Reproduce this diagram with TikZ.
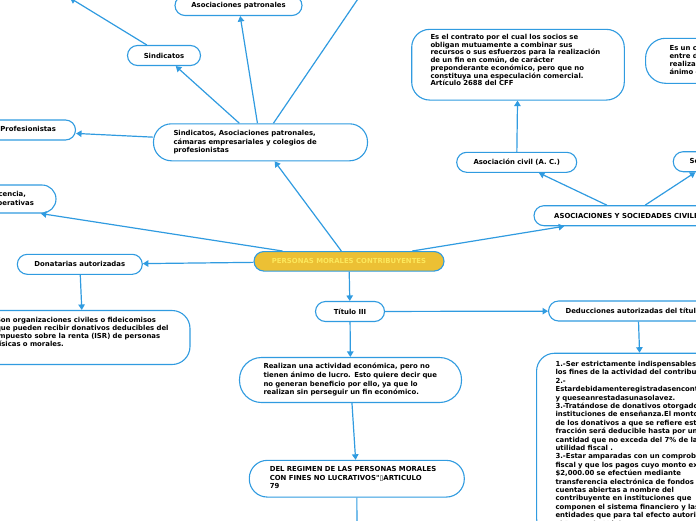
\documentclass[tikz,border=0pt]{standalone}
\usepackage{fontspec}
\newfontfamily\dvs{DejaVu Sans}
\usetikzlibrary{arrows.meta,calc}
\definecolor{bl}{RGB}{48,155,224}
\definecolor{gold}{RGB}{236,192,52}
\definecolor{lyel}{RGB}{252,232,92}
\newcommand{\mlines}[1]{\begin{tabular}{@{}l@{}}#1\end{tabular}}
\newcommand{\rlines}[1]{\begin{tabular}{@{}r@{}}#1\end{tabular}}
\begin{document}
\begin{tikzpicture}[x=1pt,y=-1pt,
  mm/.style={draw=bl, line width=1.1pt, fill=white, text=black,
    font=\dvs\bfseries\fontsize{6.9}{8.5}\selectfont, inner sep=0pt},
  lsp/.style={font={\dvs\bfseries\fontsize{6.9}{#1}\selectfont}},
  pill/.style={mm, rounded corners=10pt, minimum height=20pt},
  conn/.style={draw=bl, line width=1.2pt, -{Triangle[length=5.5pt,width=6.5pt]}}]
\useasboundingbox (0,0) rectangle (696,520);

% nodes
\node[pill, minimum width=127pt] (ap) at (238.5,5.5) {Asociaciones patronales};
\node[pill, minimum width=73pt] (sind) at (164,55.5) {Sindicatos};
\node[mm, rounded corners=18pt, minimum width=214pt, minimum height=37pt,
  text width=174pt, inner xsep=20pt, align=left] (hub) at (260.5,142.3)
  {\mlines{Sindicatos, Asociaciones patronales,\\cámaras empresariales y colegios de\\profesionistas}};
\node[pill, minimum width=142pt] (prof) at (4.5,130) {Colegios de Profesionistas};
\node[mm, rounded corners=14pt, minimum width=218pt, minimum height=28pt,
  text width=174pt, inner xsep=22pt, align=right, lsp=8.7] (ben) at (-53,199)
  {\rlines{Asistencia o beneficencia,\kern8pt\\Sociedades cooperativas}};
\node[mm, fill=gold, text=lyel, rounded corners=9.75pt, minimum width=190pt,
  minimum height=19.5pt] (pm) at (349,261.3) {PERSONAS MORALES CONTRIBUYENTES};
\node[pill, minimum width=125pt] (don) at (79.8,264.3) {Donatarias autorizadas};
\node[mm, rounded corners=18pt, minimum width=214pt, minimum height=54pt,
  text width=174pt, inner xsep=20pt, align=left, lsp=7.7] (dond) at (83,337.5)
  {\mlines{Son organizaciones civiles o fideicomisos\\que pueden recibir donativos deducibles del\\impuesto sobre la renta (ISR) de personas\\físicas o morales.\\[9pt]}};
\node[pill, minimum width=69pt] (tit) at (350,311.5) {Título III};
\node[pill, anchor=west, inner xsep=17pt] (ded) at (548,311) {Deducciones autorizadas del título III};
\node[mm, rounded corners=18pt, anchor=north west, text width=174pt,
  inner xsep=19pt, inner ysep=7.3pt, align=left, lsp=8.4] (dedd) at (536,352.7)
  {\mlines{1.-Ser estrictamente indispensables para\\los fines de la actividad del contribuyente.\\2.-\\Estardebidamenteregistradasencontabilidad\\y queseanrestadasunasolavez.\\3.-Tratándose de donativos otorgados a\\instituciones de enseñanza.El monto total\\de los donativos a que se refiere esta\\fracción será deducible hasta por una\\cantidad que no exceda del 7\% de la\\utilidad fiscal .\\3.-Estar amparadas con un comprobante\\fiscal y que los pagos cuyo monto exceda de\\\$2,000.00 se efectúen mediante\\transferencia electrónica de fondos desde\\cuentas abiertas a nombre del\\contribuyente en instituciones que\\componen el sistema financiero y las\\entidades que para tal efecto autorice\\el Banco de México.}};
\node[mm, rounded corners=22pt, minimum width=222pt, minimum height=45pt,
  text width=174pt, inner xsep=24pt, align=left, lsp=8.6] (real) at (350.5,380)
  {\mlines{Realizan una actividad económica, pero no\\tienen ánimo de lucro. Esto quiere decir que\\no generan beneficio por ello, ya que lo\\realizan sin perseguir un fin económico.}};
\node[mm, rounded corners=18pt, minimum width=215pt, minimum height=36.7pt,
  text width=174pt, inner xsep=20.5pt, align=left] (dr) at (356.8,478.7)
  {\mlines{DEL REGIMEN DE LAS PERSONAS MORALES\\CON FINES NO LUCRATIVOS"▯ARTICULO\\79}};
\node[pill, minimum width=190pt] (asoc) at (629,215.7) {ASOCIACIONES Y SOCIEDADES CIVILES};
\node[pill, minimum width=120pt] (ac) at (516.7,162.3) {Asociación civil (A. C.)};
\node[mm, rounded corners=18pt, minimum width=212.6pt, minimum height=70.7pt,
  text width=175pt, inner xsep=18.8pt, align=left, lsp=7.3] (contr) at (518,64.7)
  {\mlines{Es el contrato por el cual los socios se\\obligan mutuamente a combinar sus\\recursos o sus esfuerzos para la realización\\de un fin en común, de carácter\\preponderante económico, pero que no\\constituya una especulación comercial.\\Artículo 2688 del CFF\\[6.8pt]}};
\node[mm, rounded corners=20pt, anchor=west, minimum height=45pt,
  text width=174pt, inner xsep=24pt, align=left, lsp=8.3] (esun) at (645,60.8)
  {\mlines{Es un contrato que se celebra\\entre dos o más personas para\\realizar un fin común sin\\ánimo de lucro.}};
\node[pill, anchor=west, inner xsep=16.3pt] (soc) at (672.7,161.7) {Sociedad civil (S. C.)};

\coordinate (tl) at (70,-2);
\coordinate (tr) at (364,-10);
\coordinate (below) at (357,545);

% connectors
\draw[conn] (hub) -- (sind);
\draw[conn] (hub) -- (ap);
\draw[conn] (hub) -- (tr);
\draw[conn] (hub) -- (prof);
\draw[conn] (sind) -- (tl);
\draw[conn] (pm) -- (hub);
\draw[conn] (pm) -- (ben);
\draw[conn] (pm) -- (don);
\draw[conn] (pm) -- (tit);
\draw[conn] (pm) -- (asoc);
\draw[conn] (don) -- (dond);
\draw[conn] (tit) -- (ded);
\draw[conn] (tit) -- (real);
\draw[conn] (ded) -- (dedd);
\draw[conn] (real) -- (dr);
\draw[conn] (dr) -- (below);
\draw[conn] (asoc) -- (ac);
\draw[conn] (asoc) -- ($(soc.south west)!0.2!(soc.south east)$);
\draw[conn] (ac) -- (contr);
\end{tikzpicture}
\end{document}
